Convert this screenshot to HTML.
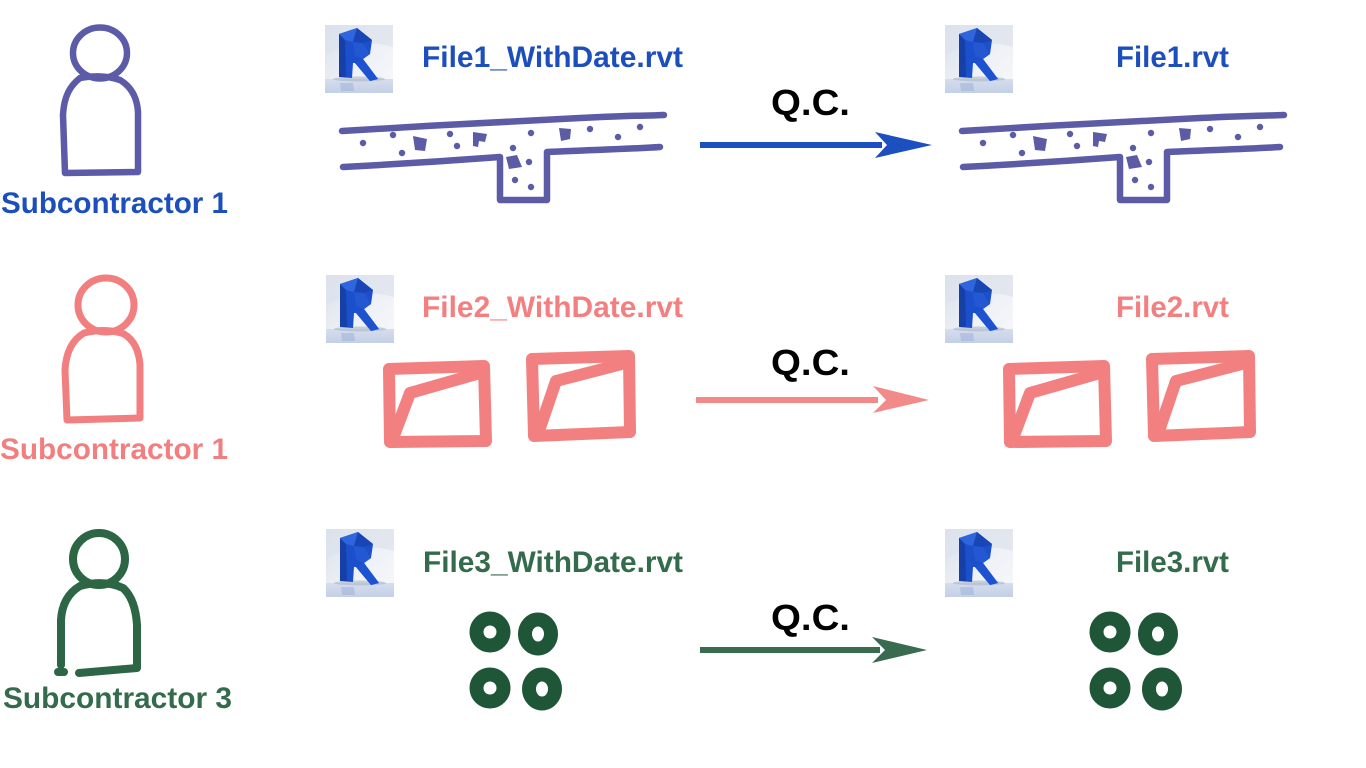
<!DOCTYPE html>
<html>
<head>
<meta charset="utf-8">
<style>
  html,body{margin:0;padding:0;background:#fff;}
  body{width:1366px;height:768px;overflow:hidden;position:relative;}
  svg{position:absolute;left:0;top:0;}
  .t{font-family:"Liberation Sans",Arial,sans-serif;font-weight:bold;}
</style>
</head>
<body>
<svg width="1366" height="768" viewBox="0 0 1366 768" xmlns="http://www.w3.org/2000/svg">
  <defs>
    <linearGradient id="bg" x1="0" y1="0" x2="1" y2="1">
      <stop offset="0" stop-color="#d9dfe9"/>
      <stop offset="0.55" stop-color="#eef1f6"/>
      <stop offset="1" stop-color="#f7f8fb"/>
    </linearGradient>
    <linearGradient id="fl" x1="0" y1="0" x2="0" y2="1">
      <stop offset="0" stop-color="#d6deec"/>
      <stop offset="1" stop-color="#c3d0e6"/>
    </linearGradient>
    <symbol id="revit" viewBox="0 0 68 68">
      <rect x="0" y="0" width="68" height="68" fill="url(#bg)"/>
      <path d="M0 30 Q34 12 68 22 L68 0 L0 0 Z" fill="#dde2ec" opacity="0.7"/>
      <rect x="0" y="54" width="68" height="14" fill="url(#fl)"/>
      <ellipse cx="34" cy="54" rx="26" ry="2.5" fill="#a9b6cc" opacity="0.6"/>
      <path d="M15 58 L28 58 L29 66 L16 66 Z" fill="#8fa6d4" opacity="0.4"/>
      <!-- R shape -->
      <polygon points="14,9 32,3 47,15 45,29 38,34 53,54 45,56 30,38 28,38 27,53 14,52" fill="#1c4fcb"/>
      <polygon points="14,9 32,3 28,17 20,15" fill="#2f66de"/>
      <polygon points="32,3 47,15 38,18 28,17" fill="#1a45b5"/>
      <polygon points="28,17 38,18 45,29 38,34 30,31" fill="#2458d2"/>
      <polygon points="30,38 38,34 53,54 45,56" fill="#1d52d0"/>
      <polygon points="14,9 20,15 21,52 14,52" fill="#1640a8"/>
    </symbol>

    <g id="slab" fill="none" stroke="#5b5ba6" stroke-width="6.5" stroke-linecap="round" stroke-linejoin="round">
      <path d="M342 131 C 420 126, 520 121, 580 118 S 640 116, 664 115"/>
      <path d="M343 167 C 400 164, 460 160, 500 157 L 500 200 L 547 200 L 547 152 C 590 150, 630 149, 660 147"/>
      <g fill="#5b5ba6" stroke="none">
        <circle cx="363" cy="143" r="3.2"/>
        <circle cx="393" cy="135" r="3.2"/>
        <circle cx="402" cy="153" r="3.2"/>
        <path d="M413 136 L427 139 L425 151 L415 150 Z"/>
        <circle cx="450" cy="134" r="3.2"/>
        <circle cx="457" cy="146" r="3.2"/>
        <path d="M473 132 L487 134 L485 142 L479 141 L478 147 L473 146 Z"/>
        <circle cx="513" cy="148" r="3.2"/>
        <path d="M506 157 L517 155 L522 167 L509 169 Z"/>
        <circle cx="529" cy="162" r="3.2"/>
        <circle cx="531" cy="133" r="3.2"/>
        <circle cx="515" cy="180" r="3.2"/>
        <circle cx="531" cy="187" r="3.2"/>
        <path d="M559 128 L571 129 L570 139 L561 141 Z"/>
        <circle cx="590" cy="129" r="3.2"/>
        <circle cx="618" cy="137" r="3.2"/>
        <circle cx="640" cy="127" r="3.2"/>
      </g>
    </g>

    <g id="squares" fill="none" stroke="#f38080" stroke-width="12" stroke-linejoin="round" stroke-linecap="round">
      <path d="M389 369 L484 366 L486 441 L390 442 Z"/>
      <path d="M395 433 L410 393 L480 373"/>
      <path d="M532 359 L629 356 L630 432 L534 436 Z"/>
      <path d="M540 428 L556 381 L626 363"/>
    </g>

    <g id="rings" fill="none" stroke="#1f5637" stroke-width="14">
      <ellipse cx="490" cy="632" rx="13.5" ry="13.5"/>
      <ellipse cx="538" cy="634" rx="13" ry="14.5"/>
      <ellipse cx="490" cy="688" rx="13.5" ry="13.5"/>
      <ellipse cx="542" cy="689" rx="13" ry="14.5"/>
    </g>
  </defs>

  <!-- Persons -->
  <g fill="none" stroke="#5b5ba8" stroke-width="6.5" stroke-linejoin="round" stroke-linecap="round">
    <ellipse cx="100" cy="53" rx="27" ry="25.5"/>
    <path d="M80 78 C 70 86, 64 96, 63 115 L 65 173 L 138 172 L 138 112 C 137 96, 130 86, 120 80 C 105 75, 92 76, 80 78 Z"/>
  </g>
  <g fill="none" stroke="#f27f80" stroke-width="7" stroke-linejoin="round" stroke-linecap="round">
    <ellipse cx="106" cy="305" rx="28" ry="27"/>
    <path d="M84 333 C 72 340, 66 352, 65 370 L 67 420 L 140 418 L 140 365 C 139 350, 134 340, 124 334 C 110 329, 96 330, 84 333 Z"/>
  </g>
  <g fill="none" stroke="#2d6644" stroke-width="8" stroke-linejoin="round" stroke-linecap="round">
    <ellipse cx="99" cy="559" rx="26" ry="26"/>
    <path d="M61 665 L 61 620 C 62 602, 70 592, 80 586 C 95 582, 110 582, 123 588 C 132 596, 136 610, 137 625 L 137 668 L 79 673"/>
    <path d="M58 672 L 64 672"/>
  </g>

  <!-- Subcontractor labels -->
  <text class="t" x="1" y="213" font-size="30" fill="#1c4fbb" textLength="227" lengthAdjust="spacingAndGlyphs">Subcontractor 1</text>
  <text class="t" x="0" y="459" font-size="30" fill="#f27f80" textLength="228" lengthAdjust="spacingAndGlyphs">Subcontractor 1</text>
  <text class="t" x="3" y="708" font-size="30" fill="#336b4c" textLength="229" lengthAdjust="spacingAndGlyphs">Subcontractor 3</text>

  <!-- Revit icons -->
  <use href="#revit" x="325" y="25" width="68" height="68"/>
  <use href="#revit" x="945" y="25" width="68" height="68"/>
  <use href="#revit" x="326" y="275" width="68" height="68"/>
  <use href="#revit" x="945" y="275" width="68" height="68"/>
  <use href="#revit" x="326" y="529" width="68" height="68"/>
  <use href="#revit" x="945" y="529" width="68" height="68"/>

  <!-- File names -->
  <text class="t" x="422" y="67" font-size="30" fill="#1c4fbb" textLength="261" lengthAdjust="spacingAndGlyphs">File1_WithDate.rvt</text>
  <text class="t" x="1116" y="67" font-size="30" fill="#1c4fbb" textLength="113" lengthAdjust="spacingAndGlyphs">File1.rvt</text>
  <text class="t" x="422" y="317" font-size="30" fill="#f47f80" textLength="261" lengthAdjust="spacingAndGlyphs">File2_WithDate.rvt</text>
  <text class="t" x="1116" y="317" font-size="30" fill="#f47f80" textLength="113" lengthAdjust="spacingAndGlyphs">File2.rvt</text>
  <text class="t" x="423" y="572" font-size="30" fill="#336b4c" textLength="260" lengthAdjust="spacingAndGlyphs">File3_WithDate.rvt</text>
  <text class="t" x="1116" y="572" font-size="30" fill="#336b4c" textLength="113" lengthAdjust="spacingAndGlyphs">File3.rvt</text>

  <!-- Sketches -->
  <use href="#slab"/>
  <use href="#slab" transform="translate(620,0)"/>
  <use href="#squares"/>
  <use href="#squares" transform="translate(620,0)"/>
  <use href="#rings"/>
  <use href="#rings" transform="translate(620,0)"/>

  <!-- Q.C. labels -->
  <text class="t" x="771" y="115" font-size="36" fill="#000" textLength="79" lengthAdjust="spacingAndGlyphs">Q.C.</text>
  <text class="t" x="771" y="375" font-size="36" fill="#000" textLength="79" lengthAdjust="spacingAndGlyphs">Q.C.</text>
  <text class="t" x="771" y="630" font-size="36" fill="#000" textLength="79" lengthAdjust="spacingAndGlyphs">Q.C.</text>

  <!-- Arrows -->
  <g>
    <rect x="700" y="142" width="182" height="6" fill="#1c4fbf"/>
    <polygon points="875,132 932,145 875,158 887,145" fill="#1c4fbf"/>
  </g>
  <g>
    <rect x="696" y="397" width="182" height="6" fill="#f28a8a"/>
    <polygon points="873,386 929,400 873,413 886,400" fill="#f28a8a"/>
  </g>
  <g>
    <rect x="700" y="647" width="180" height="6" fill="#386b50"/>
    <polygon points="872,637 927,650 872,663 885,650" fill="#386b50"/>
  </g>
</svg>
</body>
</html>
